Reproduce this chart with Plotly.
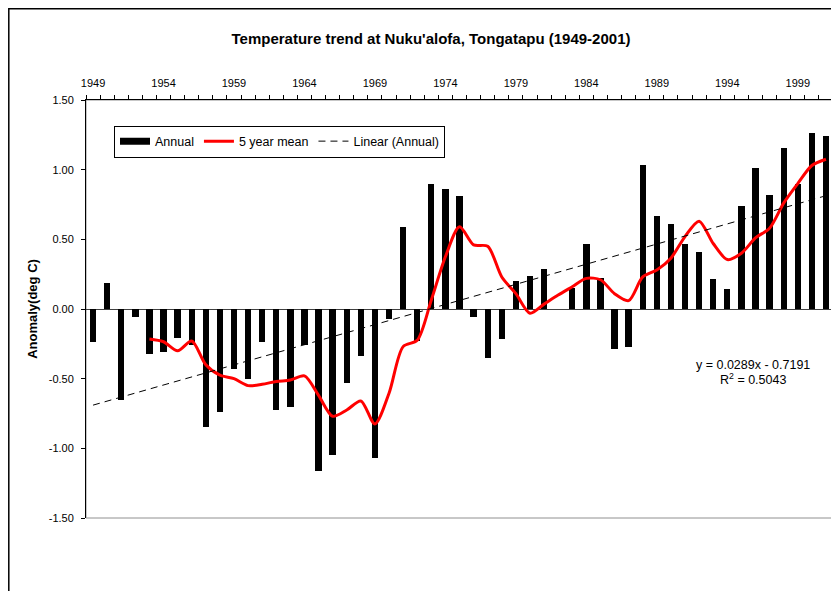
import plotly.graph_objects as go

# 연도 (1949-2001)
years = list(range(1949, 2002))

# 연간 기온 편차 (막대)
annual = [
    -0.24, 0.19, -0.65, -0.06, -0.32, -0.31, -0.21, -0.26, -0.85, -0.74,
    -0.43, -0.50, -0.24, -0.725, -0.70, -0.26, -1.16, -1.05, -0.53, -0.34,
    -1.07, -0.07, 0.59, -0.23, 0.90, 0.86, 0.81, -0.06, -0.35, -0.215,
    0.20, 0.24, 0.29, 0.0, 0.15, 0.47, 0.22, -0.29, -0.27, 1.03,
    0.665, 0.61, 0.47, 0.41, 0.215, 0.14, 0.74, 1.01, 0.82, 1.155,
    0.90, 1.26, 1.245,
]

# 5년 이동평균 (1953년부터)
mean_years = list(range(1953, 2002))
mean5 = [
    -0.215, -0.235, -0.30, -0.23, -0.40, -0.475, -0.50, -0.55, -0.54, -0.52,
    -0.51, -0.48, -0.62, -0.77, -0.725, -0.66, -0.825, -0.605, -0.27, -0.225,
    0.065, 0.375, 0.59, 0.46, 0.45, 0.23, 0.11, -0.03, 0.035, 0.10,
    0.16, 0.22, 0.21, 0.11, 0.06, 0.23, 0.28, 0.365, 0.52, 0.63,
    0.47, 0.355, 0.40, 0.51, 0.58, 0.76, 0.90, 1.03, 1.075,
]

# 선형 추세선 끝점
trend_years = [1949, 2001]
trend_values = [-0.690, 0.813]

x_tick_years = list(range(1949, 2002, 5))
y_tick_vals = [1.5, 1.0, 0.5, 0.0, -0.5, -1.0, -1.5]
y_tick_text = ["1.50", "1.00", "0.50", "0.00", "-0.50", "-1.00", "-1.50"]

FONT = "Arial, Liberation Sans, sans-serif"

# 페이지 body 여백(8px)을 감안한 크기
W, H = 831, 583
L, T, R, B = 78, 92, 6, 73
PW, PH = W - L - R, H - T - B

fig = go.Figure()

fig.add_trace(go.Bar(
    x=years, y=annual, name="Annual", showlegend=False,
    marker=dict(color="black", line=dict(width=0)),
    width=0.45,
))

# 범례용 (엑셀식 넓은 막대 견본)
fig.add_trace(go.Scatter(
    x=[None], y=[None], name="Annual", mode="lines",
    line=dict(color="black", width=7),
))

fig.add_trace(go.Scatter(
    x=mean_years, y=mean5, name="5 year mean", mode="lines",
    line=dict(color="#ff0000", width=3, shape="spline", smoothing=0.8),
))

fig.add_trace(go.Scatter(
    x=trend_years, y=trend_values, name="Linear (Annual)", mode="lines",
    line=dict(color="black", width=1, dash="7px,5px"),
))

fig.update_layout(
    width=W, height=H,
    margin=dict(l=L, r=R, t=T, b=B, autoexpand=False),
    paper_bgcolor="white", plot_bgcolor="white",
    font=dict(family=FONT, size=11, color="black"),
    title=dict(
        text="<b>Temperature trend at Nuku'alofa, Tongatapu (1949-2001)</b>",
        x=423 / W, xanchor="center", y=1 - 31 / H, yanchor="middle",
        font=dict(size=15, family=FONT),
    ),
    showlegend=True,
    legend=dict(
        orientation="h", x=(106 - L) / PW, xanchor="left",
        y=(H - B - 133.5) / PH, yanchor="middle",
        bordercolor="black", borderwidth=1, bgcolor="white",
        font=dict(size=12.5), tracegroupgap=0, itemwidth=30,
    ),
    bargap=0,
    xaxis=dict(
        side="top", range=[1948.5, 2001.5], automargin=False,
        tickvals=x_tick_years, ticklen=0, ticks="", ticklabelstandoff=8,
        tickfont=dict(size=11),
        showgrid=False, zeroline=False,
        showline=True, linecolor="black", linewidth=1,
        minor=dict(tick0=1948.5, dtick=1, ticks="outside", ticklen=4,
                   tickcolor="black", showgrid=False),
    ),
    yaxis=dict(
        range=[-1.5, 1.5], tickvals=y_tick_vals, ticktext=y_tick_text,
        automargin=False,
        ticks="outside", ticklen=4, tickcolor="black", ticklabelstandoff=5,
        tickfont=dict(size=11),
        showgrid=False, zeroline=True, zerolinecolor="#404040", zerolinewidth=1,
        showline=True, linecolor="black", linewidth=1,
        title=dict(text="<b>Anomaly(deg C)</b>", font=dict(size=13), standoff=8),
    ),
)

# 플롯 영역 테두리 (회색)
fig.add_shape(type="rect", xref="paper", yref="paper", x0=0, x1=1, y0=0, y1=1,
              line=dict(color="#909090", width=1), layer="below")

# 차트 외곽 테두리
fig.add_shape(type="rect", xref="paper", yref="paper",
              x0=(0.8 - L) / PW, x1=(W + 20 - L) / PW,
              y0=-(H + 20 - (H - B)) / PH, y1=(H - B - 0.8) / PH,
              line=dict(color="black", width=1.5))

fig.add_annotation(text="y = 0.0289x - 0.7191", xref="paper", yref="paper",
                   x=(745 - L) / PW, y=(H - B - 357) / PH,
                   xanchor="center", yanchor="middle",
                   showarrow=False, font=dict(size=12.5))
fig.add_annotation(text="R<sup>2</sup> = 0.5043", xref="paper", yref="paper",
                   x=(745 - L) / PW, y=(H - B - 381) / PH,
                   xanchor="center", yanchor="bottom",
                   showarrow=False, font=dict(size=12.5))

fig.write_html("out.html")
